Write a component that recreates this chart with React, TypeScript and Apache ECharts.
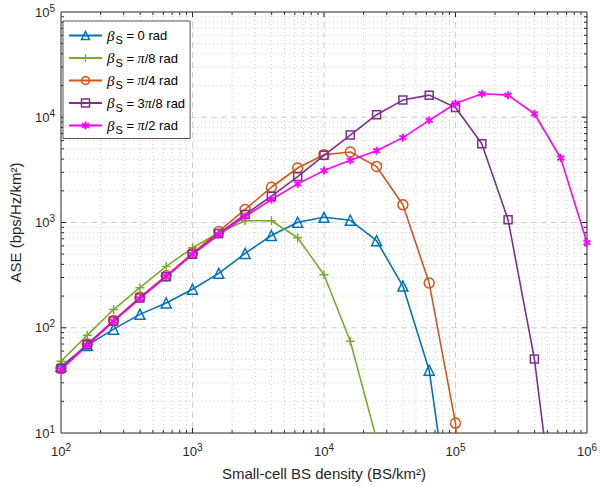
import React, { useEffect, useRef } from "react";
import * as echarts from "echarts";

const densities = [100, 158.5, 251.2, 398.1, 631, 1000, 1585, 2512, 3981, 6310, 10000, 15849, 25119, 39811, 63096, 100000, 158489, 251189, 398107, 630957, 1000000];
const ase0 = [43, 68, 97, 134, 172, 232, 329, 508, 753, 1005, 1120, 1050, 671, 249, 39.5, 0.7];
const asePi8 = [48, 85, 149, 240, 383, 575, 798, 1040, 1040, 716, 319, 74.5, 8.7];
const asePi4 = [41, 70, 117, 195, 312, 510, 822, 1330, 2162, 3296, 4400, 4680, 3399, 1472, 266, 12.4, 0.003];
const ase3Pi8 = [41, 69, 116, 192, 305, 500, 785, 1191, 1775, 2730, 4350, 6775, 10570, 14560, 16220, 12380, 5610, 1062, 50.6, 0.5];
const asePi2 = [40, 68, 115, 189, 308, 498, 764, 1140, 1652, 2327, 3112, 3899, 4808, 6400, 9340, 13520, 16710, 16220, 10790, 4100, 645];

const seriesNames = ["β_S = 0 rad", "β_S = π/8 rad", "β_S = π/4 rad", "β_S = 3π/8 rad", "β_S = π/2 rad"];
const legendRich = [
  "{b|β}{s|S}{t| = 0 rad}",
  "{b|β}{s|S}{t| = }{p|π}{t|/8 rad}",
  "{b|β}{s|S}{t| = }{p|π}{t|/4 rad}",
  "{b|β}{s|S}{t| = 3}{p|π}{t|/8 rad}",
  "{b|β}{s|S}{t| = }{p|π}{t|/2 rad}",
];
const colors = ["#0072BD", "#77AC30", "#D95319", "#7E2F8E", "#FF00FF"];

const xMajor = [100, 1000, 10000, 100000, 1000000];
const yMajor = [10, 100, 1000, 10000, 100000];
const xDecades = [100, 1000, 10000, 100000];
const yDecades = [10, 100, 1000, 10000];
const minorMult = [2, 3, 4, 5, 6, 7, 8, 9];

const PLUS = "path://M4.2,0H5.8V4.2H10V5.8H5.8V10H4.2V5.8H0V4.2H4.2Z";
const ASTER = "path://M3.9,0H6.1V2.9L8.6,1.4L9.7,3.3L7.2,4.8V5.2L9.7,6.7L8.6,8.6L6.1,7.1V10H3.9V7.1L1.4,8.6L0.3,6.7L2.8,5.2V4.8L0.3,3.3L1.4,1.4L3.9,2.9Z";

const TXT = "#262626";
const FONT = "Liberation Sans, Arial, sans-serif";

export default function App() {
  const ref = useRef<HTMLDivElement>(null);
  useEffect(() => {
    if (!ref.current) return;
    const chart = echarts.init(ref.current, undefined, { renderer: "svg" });

    const xGridData: number[][] = [];
    xMajor.forEach((v) => xGridData.push([v, 10, 1]));
    xDecades.forEach((d) => minorMult.forEach((m) => xGridData.push([d * m, 10, 0])));
    const yGridData: number[][] = [];
    yMajor.forEach((v) => yGridData.push([100, v, 1]));
    yDecades.forEach((d) => minorMult.forEach((m) => yGridData.push([100, d * m, 0])));

    const gridStroke = "#d0d0d0";
    const renderGrid = (dir: "x" | "y") => (params: any, api: any) => {
      const cs = params.coordSys;
      const major = api.value(2) === 1;
      const pt = api.coord([api.value(0), api.value(1)]);
      const len = major ? 5 : 3;
      const children: any[] = [];
      const dash = major ? [6, 4] : [1, 3];
      if (dir === "x") {
        const px = pt[0];
        const edge = Math.abs(px - cs.x) < 1 || Math.abs(px - (cs.x + cs.width)) < 1;
        if (!edge) {
          children.push({ type: "line", shape: { x1: px, y1: cs.y, x2: px, y2: cs.y + cs.height }, style: { stroke: gridStroke, lineWidth: 1, lineDash: dash } });
          children.push({ type: "line", shape: { x1: px, y1: cs.y + cs.height, x2: px, y2: cs.y + cs.height - len }, style: { stroke: TXT, lineWidth: 1 } });
          children.push({ type: "line", shape: { x1: px, y1: cs.y, x2: px, y2: cs.y + len }, style: { stroke: TXT, lineWidth: 1 } });
        }
      } else {
        const py = pt[1];
        const edge = Math.abs(py - cs.y) < 1 || Math.abs(py - (cs.y + cs.height)) < 1;
        if (!edge) {
          children.push({ type: "line", shape: { x1: cs.x, y1: py, x2: cs.x + cs.width, y2: py }, style: { stroke: gridStroke, lineWidth: 1, lineDash: dash } });
          children.push({ type: "line", shape: { x1: cs.x, y1: py, x2: cs.x + len, y2: py }, style: { stroke: TXT, lineWidth: 1 } });
          children.push({ type: "line", shape: { x1: cs.x + cs.width, y1: py, x2: cs.x + cs.width - len, y2: py }, style: { stroke: TXT, lineWidth: 1 } });
        }
      }
      return { type: "group", children };
    };

    const allY = [ase0, asePi8, asePi4, ase3Pi8, asePi2];
    const symbols = ["triangle", PLUS, "circle", "rect", ASTER];
    const symbolSizes = [10, 9, 10, 8, 8];
    const hollow = [true, false, true, true, false];

    const dataSeries = allY.map((ys, i) => ({
      name: seriesNames[i],
      type: "line",
      data: ys.map((v, j) => [densities[j], v]),
      symbol: symbols[i],
      symbolSize: symbolSizes[i],
      showAllSymbol: true,
      clip: true,
      z: 5,
      lineStyle: { color: colors[i], width: 1.6 },
      itemStyle: hollow[i]
        ? { color: "rgba(255,255,255,0)", borderColor: colors[i], borderWidth: 1.5 }
        : { color: colors[i], borderWidth: 0 },
      emphasis: { disabled: true },
    }));

    chart.setOption({
      animation: false,
      grid: { left: 56, right: 11, top: 12, bottom: 53, show: true, borderColor: TXT, borderWidth: 1, backgroundColor: "#fff" },
      legend: {
        data: seriesNames.map((n, i) => ({
          name: n,
          itemStyle: hollow[i]
            ? { color: "rgba(255,255,255,0)", borderColor: colors[i], borderWidth: 1.5 }
            : { color: colors[i], borderWidth: 0 },
        })),
        orient: "vertical",
        left: 63,
        top: 21,
        itemWidth: 33,
        itemHeight: 10,
        itemGap: 5,
        padding: [7, 5, 3, 5],
        borderColor: TXT,
        borderWidth: 0.8,
        backgroundColor: "#fff",
        selectedMode: false,
        formatter: (name: string) => legendRich[seriesNames.indexOf(name)],
        textStyle: {
          color: "#000",
          fontFamily: FONT,
          fontSize: 13,
          rich: {
            b: { fontFamily: "Liberation Serif, serif", fontStyle: "italic", fontSize: 15, lineHeight: 20, verticalAlign: "middle", color: "#000" },
            s: { fontFamily: FONT, fontSize: 11, lineHeight: 10, verticalAlign: "bottom", padding: [0, 0, 0, 1], color: "#000" },
            t: { fontFamily: FONT, fontSize: 13, lineHeight: 20, verticalAlign: "middle", color: "#000" },
            p: { fontFamily: "Liberation Serif, serif", fontStyle: "italic", fontSize: 14, lineHeight: 20, verticalAlign: "middle", color: "#000" },
          },
        },
      },
      xAxis: {
        type: "log",
        logBase: 10,
        min: 100,
        max: 1000000,
        interval: 1,
        name: "Small-cell BS density (BS/km²)",
        nameLocation: "middle",
        nameGap: 33,
        nameTextStyle: { color: TXT, fontFamily: FONT, fontSize: 15 },
        axisLine: { show: false },
        axisTick: { show: false },
        splitLine: { show: false },
        axisLabel: {
          margin: 9,
          color: TXT,
          formatter: (v: number) => `{b|10}{s|${Math.round(Math.log10(v))}}`,
          rich: {
            b: { fontFamily: FONT, fontSize: 13, color: TXT },
            s: { fontFamily: FONT, fontSize: 10, color: TXT, padding: [0, 0, 8, 0] },
          },
        },
      },
      yAxis: {
        type: "log",
        logBase: 10,
        min: 10,
        max: 100000,
        interval: 1,
        name: "ASE (bps/Hz/km²)",
        nameLocation: "middle",
        nameGap: 38,
        nameTextStyle: { color: TXT, fontFamily: FONT, fontSize: 15 },
        axisLine: { show: false },
        axisTick: { show: false },
        splitLine: { show: false },
        axisLabel: {
          margin: 6,
          color: TXT,
          formatter: (v: number) => `{b|10}{s|${Math.round(Math.log10(v))}}`,
          rich: {
            b: { fontFamily: FONT, fontSize: 13, color: TXT },
            s: { fontFamily: FONT, fontSize: 10, color: TXT, padding: [0, 0, 8, 0] },
          },
        },
      },
      series: [
        { type: "custom", renderItem: renderGrid("x"), data: xGridData, z: 1, silent: true, clip: false, encode: { x: 0, y: 1 } },
        { type: "custom", renderItem: renderGrid("y"), data: yGridData, z: 1, silent: true, clip: false, encode: { x: 0, y: 1 } },
        ...dataSeries,
      ],
    });
    return () => chart.dispose();
  }, []);
  return <div ref={ref} style={{ width: 600, height: 486, position: "absolute", left: 0, top: 0 }} />;
}
